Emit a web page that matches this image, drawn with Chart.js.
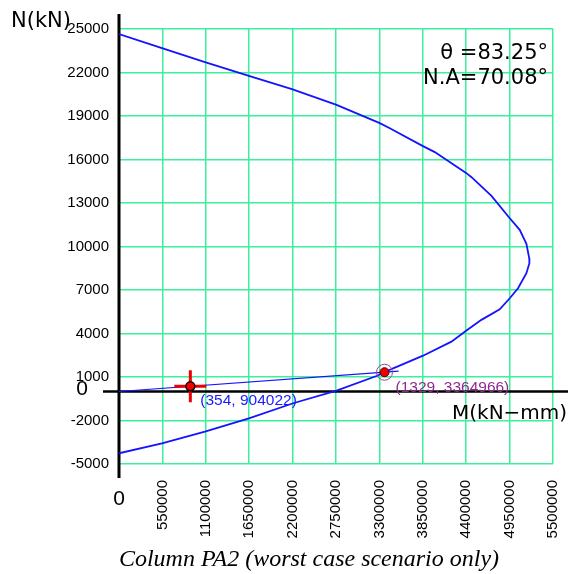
<!DOCTYPE html>
<html>
<head>
<meta charset="utf-8">
<title>Column PA2 interaction diagram</title>
<script src="https://cdn.jsdelivr.net/npm/chart.js@4/dist/chart.umd.min.js"></script>
<style>
  html, body { margin: 0; padding: 0; background: #fff; }
  #wrap { position: relative; width: 568px; height: 574px; }
</style>
</head>
<body>
<div id="wrap"><canvas id="pm-chart" width="568" height="574"></canvas></div>
<script>
// interaction curve, M in kN-mm, N in kN
var curveM = [0, 544500, 1089000, 1646000, 2191000, 2757000, 3305000, 3432000, 3846000, 4002000,
              4403000, 4467000, 4720000, 4952000, 5078000, 5163000, 5199000, 5201000, 5163000, 5057000,
              4952000, 4825000, 4593000, 4403000, 4213000, 3853000, 3474000, 3263000, 2757000, 2207000,
              1646000, 1089000, 544500, 0];
var curveN = [24650, 23680, 22720, 21770, 20850, 19770, 18510, 18160, 16940, 16510,
              15060, 14780, 13490, 11950, 11150, 10180, 9190, 8850, 8160, 7120,
              6430, 5670, 4940, 4200, 3440, 2470, 1600, 1070, 60, -810,
              -1850, -2770, -3570, -4260];

// load line from origin
var loadM = [0, 3544000];
var loadN = [0, 1400];

// demand and capacity points
var demandN = 354, demandM = 904022;
var capN = 1329, capM = 3364966;

var mMin = 0, mMax = 5500000, mStep = 550000;
var nMin = -5000, nMax = 25000, nStep = 3000;

var theta = '83.25°';
var naAngle = '70.08°';

var gridColor = '#3cf09c';
var blue = '#1414ff';

function pts(xs, ys) {
  var out = [];
  for (let i in xs) out.push({x: xs[i], y: ys[i]});
  return out;
}

var extras = {
  id: 'extras',
  beforeDatasetsDraw: function(chart) {
    var ctx = chart.ctx, xs = chart.scales.x, ys = chart.scales.y;
    var x0 = xs.getPixelForValue(0), y0 = ys.getPixelForValue(0);
    ctx.save();
    ctx.strokeStyle = '#000';
    ctx.lineWidth = 3;
    ctx.beginPath();
    ctx.moveTo(x0, chart.chartArea.top - 15);
    ctx.lineTo(x0, chart.chartArea.bottom + 14);
    ctx.stroke();
    ctx.lineWidth = 2.5;
    ctx.beginPath();
    ctx.moveTo(x0 - 16, y0);
    ctx.lineTo(chart.width, y0);
    ctx.stroke();
    ctx.restore();
  },
  afterDraw: function(chart) {
    var ctx = chart.ctx, xs = chart.scales.x, ys = chart.scales.y;
    var x0 = xs.getPixelForValue(0), y0 = ys.getPixelForValue(0);
    ctx.save();
    ctx.fillStyle = '#000';
    ctx.textBaseline = 'alphabetic';

    // axis titles
    ctx.font = '21px "DejaVu Sans"';
    ctx.textAlign = 'left';
    ctx.fillText('N(kN)', 11, 27);
    ctx.font = '20px "DejaVu Sans"';
    ctx.fillText('M(kN−mm)', 452, y0 + 27);

    // origin zeros
    ctx.font = '21px "Liberation Sans"';
    ctx.textAlign = 'center';
    ctx.textBaseline = 'middle';
    ctx.fillText('0', x0 - 37, y0 - 2);
    ctx.fillText('0', x0, chart.chartArea.bottom + 35);

    // angles
    ctx.textBaseline = 'alphabetic';
    ctx.textAlign = 'right';
    ctx.font = '21px "DejaVu Sans"';
    ctx.fillText('θ =' + theta, 548, 59);
    ctx.fillText('N.A=' + naAngle, 548, 84);

    // point labels
    ctx.textAlign = 'left';
    ctx.textBaseline = 'middle';
    ctx.font = '15.5px "Liberation Sans"';
    ctx.fillStyle = '#1a1aff';
    ctx.fillText('(' + demandN + ', ' + demandM + ')',
      xs.getPixelForValue(demandM) + 10, ys.getPixelForValue(demandN) + 14);
    ctx.fillStyle = '#8e2a8e';
    ctx.fillText('(' + capN + ', ' + capM + ')',
      xs.getPixelForValue(capM) + 11, ys.getPixelForValue(capN) + 15);

    // caption
    ctx.fillStyle = '#000';
    ctx.textAlign = 'center';
    ctx.font = 'italic 24px "Liberation Serif"';
    ctx.fillText('Column PA2 (worst case scenario only)', 309, 560);
    ctx.restore();
  }
};

var ctx = document.getElementById('pm-chart');

// lower order is drawn on top
new Chart(ctx, {
  type: 'scatter',
  data: {
    datasets: [
      {
        data: pts(curveM, curveN),
        order: 5,
        showLine: true,
        borderColor: blue,
        borderWidth: 1.8,
        pointRadius: 0,
        tension: 0
      },
      {
        data: pts(loadM, loadN),
        order: 4,
        showLine: true,
        borderColor: blue,
        borderWidth: 1.2,
        pointRadius: 0
      },
      {
        data: [{x: demandM, y: demandN}],
        order: 3,
        pointStyle: 'cross',
        pointRadius: 16,
        borderColor: '#ee0000',
        borderWidth: 3
      },
      {
        data: [{x: demandM, y: demandN}],
        order: 2,
        pointRadius: 4.5,
        backgroundColor: '#ee0000',
        borderColor: '#000',
        borderWidth: 1.5
      },
      {
        data: [{x: capM, y: capN}],
        order: 1,
        pointRadius: 8,
        backgroundColor: 'rgba(0,0,0,0)',
        borderColor: '#a040a0',
        borderWidth: 1
      },
      {
        data: [{x: capM, y: capN}],
        order: 0,
        pointRadius: 4.5,
        backgroundColor: '#ee0000',
        borderColor: '#550000',
        borderWidth: 1
      }
    ]
  },
  plugins: [extras],
  options: {
    responsive: false,
    animation: false,
    layout: { autoPadding: false, padding: { top: 29, right: 15, left: 0, bottom: 0 } },
    plugins: {
      legend: { display: false },
      tooltip: { enabled: false }
    },
    scales: {
      x: {
        type: 'linear',
        min: mMin,
        max: mMax,
        afterFit: function(scale) {
          scale.height = 110;
          scale.paddingLeft = 0;
          scale.paddingRight = 0;
        },
        border: { display: false },
        grid: { color: gridColor, lineWidth: 1.5, drawTicks: false },
        ticks: {
          stepSize: mStep,
          autoSkip: false,
          maxRotation: 90,
          minRotation: 90,
          padding: 16,
          color: '#000',
          font: { family: 'Liberation Sans', size: 15 },
          callback: function(v) { return v === 0 ? '' : String(v); }
        }
      },
      y: {
        type: 'linear',
        min: nMin,
        max: nMax,
        afterFit: function(scale) {
          scale.width = 119;
          scale.paddingTop = 0;
          scale.paddingBottom = 0;
        },
        border: { display: false },
        grid: { color: gridColor, lineWidth: 1.5, drawTicks: false },
        ticks: {
          stepSize: nStep,
          padding: 10,
          color: '#000',
          font: { family: 'Liberation Sans', size: 15 },
          callback: function(v) { return String(v); }
        }
      }
    }
  }
});
</script>
</body>
</html>
